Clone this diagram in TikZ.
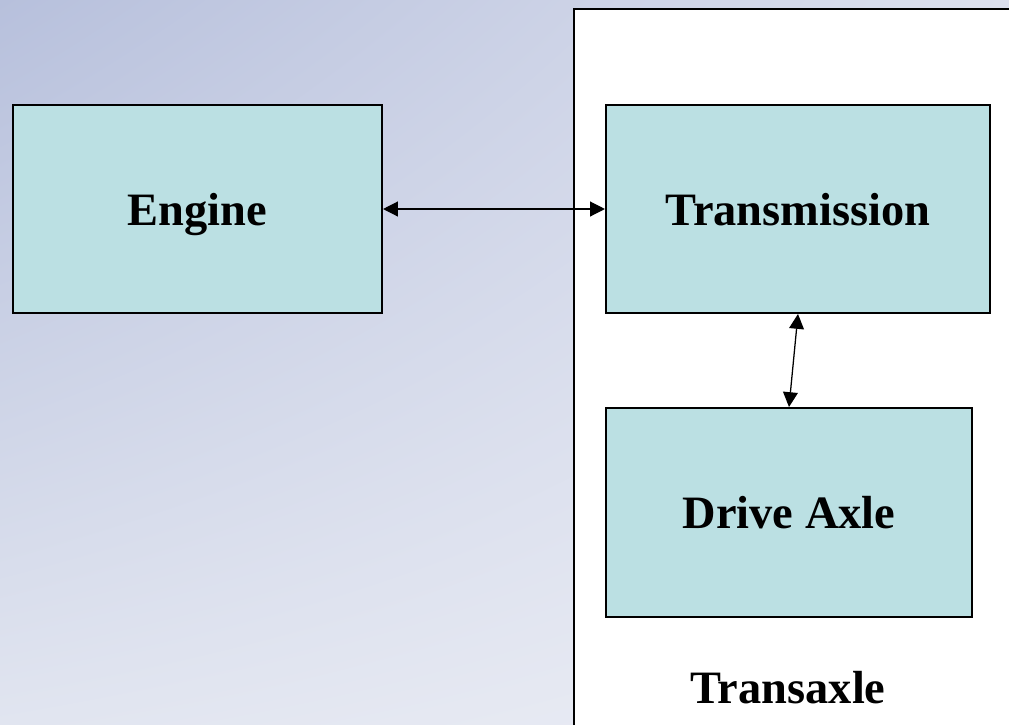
\documentclass[tikz,border=0pt]{standalone}
\usepackage{fontspec}
\setmainfont{Liberation Serif}
\usepackage{tikz}
\usetikzlibrary{arrows.meta,positioning,shadings}
\definecolor{boxfill}{HTML}{BBE0E3}
\definecolor{bgtl}{HTML}{B7C0DC}
\definecolor{bgtr}{HTML}{DCE0EE}
\definecolor{bgbl}{HTML}{E1E5F0}
\definecolor{bgbr}{HTML}{EBEDF5}
\tikzset{%
	unit/.style  = {draw, rectangle, fill=boxfill, line width=1.4pt, text centered, text height=30pt, text depth=7pt, font=\fontsize{33}{36}\selectfont\bfseries},
	link/.style  = {line width=0.9pt, {Triangle[length=0.37cm,width=0.37cm]}-{Triangle[length=0.37cm,width=0.37cm]}},
}

\begin{document}
\begin{tikzpicture}[x=0.025cm,y=-0.025cm]
		\useasboundingbox (0,0) rectangle (1009,725);
		\clip (0,0) rectangle (1009,725);
		% backdrop
		\shade[upper left=bgtl, upper right=bgtr, lower left=bgbl, lower right=bgbr] (0,0) rectangle (1009,725);
		\draw[fill=white, line width=1.4pt] (574,9) rectangle (1030,745);
		% units
		\node[unit, minimum width=9.225cm, minimum height=5.2cm] (engine) at (197.5,209) {Engine};
		\node[unit, minimum width=9.6cm, minimum height=5.2cm] (trans) at (798,209) {Transmission};
		\node[unit, minimum width=9.15cm, minimum height=5.225cm] (axle) at (789,512.5) {Drive Axle};
		\node[font=\fontsize{33}{36}\selectfont\bfseries] (label) at (788,688) {Transaxle};
		% couplings
		\draw[link] (engine.east) -- (trans.west);
		\draw[link] (trans.south) -- (axle.north);
	\end{tikzpicture}
\end{document}
